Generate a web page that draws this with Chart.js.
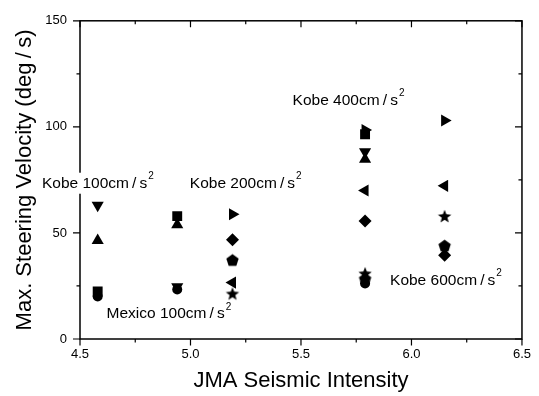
<!DOCTYPE html>
<html>
<head>
<meta charset="utf-8">
<script src="https://cdn.jsdelivr.net/npm/chart.js@4.4.0/dist/chart.umd.min.js"></script>
<style>
html, body { margin: 0; padding: 0; background: #fff; }
</style>
</head>
<body>
<canvas id="c" width="539" height="396"></canvas>
<script>
// values
const circlePts   = [[4.58, 20.0], [4.94, 23.3], [5.79, 26.2]];
const squarePts   = [[4.58, 22.4], [4.94, 57.9], [5.79, 96.5]];
const upTriPts    = [[4.58, 46.4], [4.94, 53.8], [5.79, 84.7]];
const downTriPts  = [[4.58, 63.1], [4.94, 24.6], [5.79, 88.3]];
const diamondPts  = [[5.19, 46.8], [5.79, 55.6], [6.15, 39.5]];
const leftTriPts  = [[5.19, 26.6], [5.79, 70.0], [6.15, 72.2]];
const rightTriPts = [[5.19, 58.8], [5.79, 98.5], [6.15, 103.0]];
const pentagonPts = [[5.19, 37.2], [5.79, 28.4], [6.15, 44.0]];
const starPts     = [[5.19, 21.5], [5.79, 31.0], [6.15, 58.0]];

const xTickLabels = ['4.5', '5.0', '5.5', '6.0', '6.5'];
const yTickLabels = ['0', '50', '100', '150'];

const noteText = ['Kobe 100cm\u2009/\u2009s', 'Kobe 200cm\u2009/\u2009s', 'Kobe 400cm\u2009/\u2009s',
                  'Mexico 100cm\u2009/\u2009s', 'Kobe 600cm\u2009/\u2009s'];
const noteX = [4.328, 4.997, 5.462, 4.62, 5.903];
const noteY = [73.2, 73.2, 112.4, 11.8, 27.5];

const FONT = '"Liberation Sans", Arial, sans-serif';

function toXY(arr) { return arr.map(p => ({x: p[0], y: p[1]})); }

// filled pentagon / star markers (chart.js has no filled ones)
function polyMarker(n, rOut, rIn) {
  const size = Math.ceil(rOut * 2) + 2;
  const cv = document.createElement('canvas');
  cv.width = size; cv.height = size;
  const g = cv.getContext('2d');
  const c = size / 2;
  const steps = rIn ? n * 2 : n;
  g.beginPath();
  for (let i = 0; i < steps; i++) {
    const r = (rIn && i % 2) ? rIn : rOut;
    const a = -Math.PI / 2 + i * 2 * Math.PI / steps;
    const px = c + r * Math.cos(a), py = c + r * Math.sin(a) + (rIn ? 0.8 : 0.6);
    if (i === 0) g.moveTo(px, py); else g.lineTo(px, py);
  }
  g.closePath();
  g.fillStyle = '#000';
  g.fill();
  return cv;
}
const pentagon = polyMarker(5, 6.5);
const star = polyMarker(5, 7, 3);

function ds(pts, style, radius, rot) {
  return {
    data: toXY(pts),
    pointStyle: style,
    pointRadius: radius,
    pointRotation: rot || 0,
    backgroundColor: '#000',
    borderColor: '#000',
    borderWidth: 0,
    showLine: false
  };
}

const frame = {
  id: 'frame',
  beforeDatasetsDraw(chart) {
    const {ctx, chartArea: a, scales: {x, y}} = chart;
    ctx.save();
    ctx.strokeStyle = '#000';
    ctx.lineWidth = 1.5;
    ctx.strokeRect(a.left, a.top, a.right - a.left, a.bottom - a.top);
    ctx.lineWidth = 1.2;
    ctx.beginPath();
    for (let i = 0; i <= 8; i++) {
      const v = x.min + i * 0.25;
      const px = x.getPixelForValue(v);
      const len = i % 2 ? 3.5 : 6.5;
      ctx.moveTo(px, a.bottom); ctx.lineTo(px, a.bottom + len);
      ctx.moveTo(px, a.top); ctx.lineTo(px, a.top + len);
    }
    for (let i = 0; i <= 6; i++) {
      const v = y.min + i * 25;
      const py = y.getPixelForValue(v);
      const len = i % 2 ? 3.5 : 7;
      ctx.moveTo(a.left, py); ctx.lineTo(a.left - len, py);
      ctx.moveTo(a.right, py); ctx.lineTo(a.right - len, py);
    }
    ctx.stroke();
    ctx.restore();
  }
};

const notes = {
  id: 'notes',
  afterDraw(chart) {
    const {ctx, scales: {x, y}} = chart;
    ctx.save();
    ctx.textAlign = 'left';
    ctx.textBaseline = 'middle';
    noteText.forEach((t, i) => {
      const px = x.getPixelForValue(noteX[i]);
      const py = y.getPixelForValue(noteY[i]);
      ctx.font = '15.5px ' + FONT;
      const w = ctx.measureText(t).width;
      ctx.fillStyle = '#fff';
      ctx.fillRect(px - 2, py - 11, w + 10, 21);
      ctx.fillStyle = '#000';
      ctx.fillText(t, px, py);
      ctx.font = '10px ' + FONT;
      ctx.fillText('2', px + w + 1, py - 7);
    });
    ctx.restore();
  }
};

new Chart(document.getElementById('c'), {
  type: 'scatter',
  data: {
    datasets: [
      ds(pentagonPts, pentagon, 6),
      ds(starPts, star, 6),
      ds(circlePts, 'circle', 5),
      ds(squarePts, 'rect', 7),
      ds(upTriPts, 'triangle', 7),
      ds(downTriPts, 'triangle', 7, 180),
      ds(diamondPts, 'rectRot', 6.5),
      ds(leftTriPts, 'triangle', 7, 270),
      ds(rightTriPts, 'triangle', 7, 90)
    ]
  },
  options: {
    responsive: false,
    animation: false,
    layout: { padding: { top: 14, right: 16, left: 0, bottom: 0 } },
    plugins: { legend: { display: false }, tooltip: { enabled: false } },
    scales: {
      x: {
        type: 'linear', min: 4.5, max: 6.5,
        afterFit: s => { s.height = 57; },
        grid: { display: false, drawTicks: false },
        border: { display: false },
        ticks: {
          stepSize: 0.5, padding: 8, color: '#000', maxRotation: 0,
          font: { family: FONT, size: 13 },
          callback: (v, i) => xTickLabels[i]
        },
        title: {
          display: true, text: 'JMA Seismic Intensity', color: '#000',
          font: { family: FONT, size: 22 }, padding: { top: 0, bottom: 2 }
        }
      },
      y: {
        type: 'linear', min: 0, max: 150,
        afterFit: s => { s.width = 80; },
        grid: { display: false, drawTicks: false },
        border: { display: false },
        ticks: {
          stepSize: 50, padding: 13, color: '#000',
          font: { family: FONT, size: 13 },
          callback: (v, i) => yTickLabels[i]
        },
        title: {
          display: true, text: 'Max. Steering Velocity (deg\u2009/\u2009s)', color: '#000',
          font: { family: FONT, size: 22 }, padding: { top: 12, bottom: 0 }
        }
      }
    }
  },
  plugins: [frame, notes]
});
</script>
</body>
</html>
